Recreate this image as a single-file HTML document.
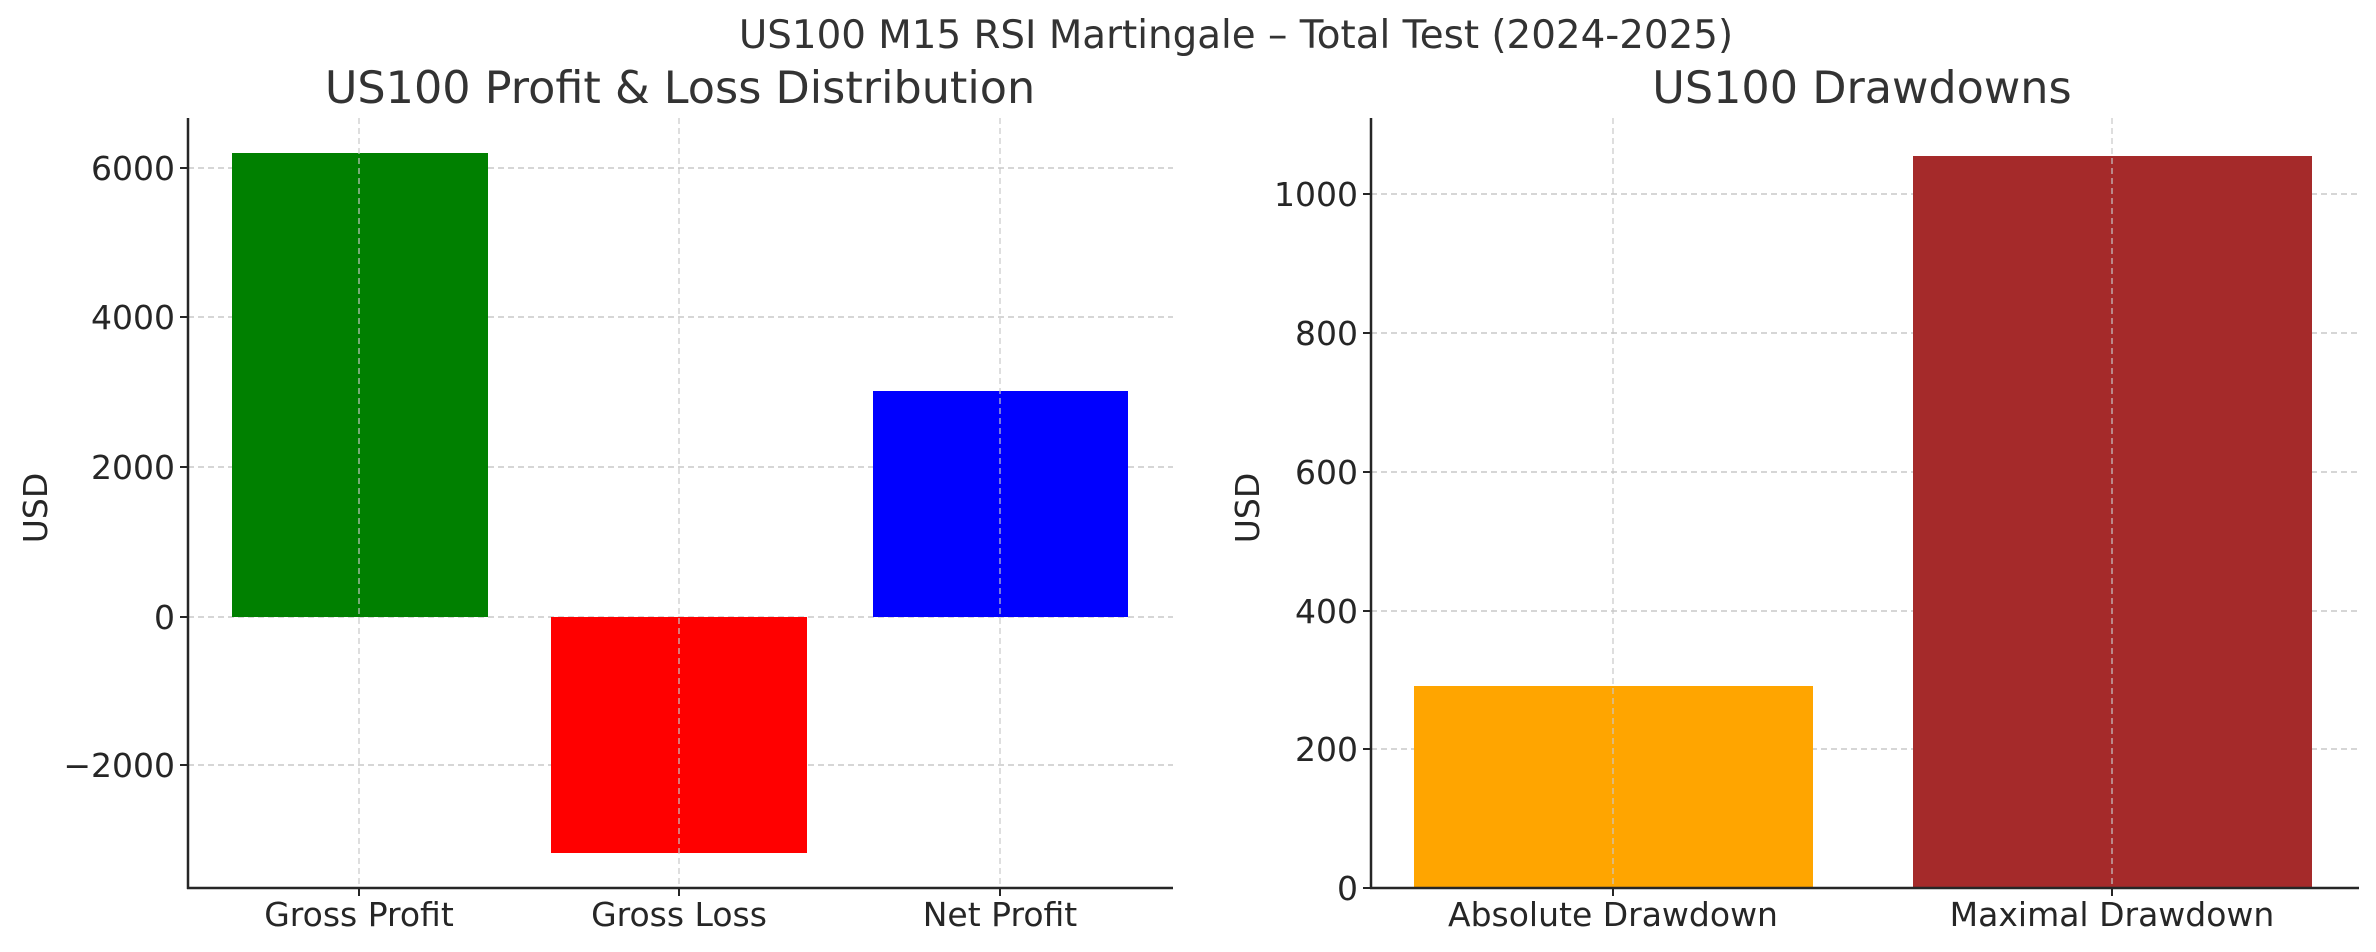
<!DOCTYPE html>
<html><head><meta charset="utf-8"><style>html,body{margin:0;padding:0;background:#fff}svg{display:block}</style></head>
<body>
<svg width="2376" height="952" xmlns="http://www.w3.org/2000/svg" font-family="DejaVu Sans, Liberation Sans, sans-serif" fill="#262626">
<rect width="2376" height="952" fill="#fff"/>
<text x="1236" y="48" font-size="38.8" text-anchor="middle" fill="#333">US100 M15 RSI Martingale – Total Test (2024-2025)</text>
<!-- Left chart -->
<text x="680" y="103" font-size="44.5" text-anchor="middle" fill="#333">US100 Profit &amp; Loss Distribution</text>
<g stroke="#c8c8c8" stroke-width="1.5" stroke-dasharray="6,4">
<line x1="188" y1="168" x2="1173" y2="168"/><line x1="188" y1="317" x2="1173" y2="317"/>
<line x1="188" y1="467" x2="1173" y2="467"/><line x1="188" y1="617" x2="1173" y2="617"/>
<line x1="188" y1="765" x2="1173" y2="765"/>
</g>
<rect x="232" y="153" width="256" height="464" fill="#008000"/>
<rect x="551" y="617" width="256" height="236" fill="#ff0000"/>
<rect x="873" y="391" width="255" height="226" fill="#0000ff"/>
<g stroke="#c8c8c8" stroke-width="1.5" stroke-dasharray="6,4" opacity="0.8">
<line x1="359" y1="118" x2="359" y2="888"/><line x1="679" y1="118" x2="679" y2="888"/><line x1="1000" y1="118" x2="1000" y2="888"/>
</g>
<g stroke="#262626" stroke-width="2.5"><line x1="188" y1="118" x2="188" y2="889"/><line x1="187" y1="888" x2="1173" y2="888"/></g>
<g stroke="#262626" stroke-width="2">
<line x1="180" y1="168" x2="188" y2="168"/><line x1="180" y1="317" x2="188" y2="317"/><line x1="180" y1="467" x2="188" y2="467"/><line x1="180" y1="617" x2="188" y2="617"/><line x1="180" y1="765" x2="188" y2="765"/>
<line x1="359" y1="888" x2="359" y2="896"/><line x1="679" y1="888" x2="679" y2="896"/><line x1="1000" y1="888" x2="1000" y2="896"/>
</g>
<g font-size="33" text-anchor="end">
<text x="175" y="180">6000</text><text x="175" y="329">4000</text><text x="175" y="479">2000</text><text x="175" y="629">0</text><text x="175" y="777">−2000</text>
</g>
<g font-size="33" text-anchor="middle">
<text x="359" y="926">Gross Profit</text><text x="679" y="926">Gross Loss</text><text x="1000" y="926">Net Profit</text>
</g>
<text transform="translate(47,508) rotate(-90)" font-size="33" text-anchor="middle">USD</text>
<!-- Right chart -->
<text x="1862" y="103" font-size="44.5" text-anchor="middle" fill="#333">US100 Drawdowns</text>
<g stroke="#c8c8c8" stroke-width="1.5" stroke-dasharray="6,4">
<line x1="1371" y1="194" x2="2359" y2="194"/><line x1="1371" y1="333" x2="2359" y2="333"/>
<line x1="1371" y1="472" x2="2359" y2="472"/><line x1="1371" y1="611" x2="2359" y2="611"/>
<line x1="1371" y1="749" x2="2359" y2="749"/>
</g>
<rect x="1414" y="686" width="399" height="202" fill="#ffa500"/>
<rect x="1913" y="156" width="399" height="732" fill="#a52a2a"/>
<g stroke="#c8c8c8" stroke-width="1.5" stroke-dasharray="6,4" opacity="0.8">
<line x1="1613" y1="118" x2="1613" y2="888"/><line x1="2112" y1="118" x2="2112" y2="888"/>
</g>
<g stroke="#262626" stroke-width="2.5"><line x1="1371" y1="118" x2="1371" y2="889"/><line x1="1370" y1="888" x2="2359" y2="888"/></g>
<g stroke="#262626" stroke-width="2">
<line x1="1363" y1="194" x2="1371" y2="194"/><line x1="1363" y1="333" x2="1371" y2="333"/><line x1="1363" y1="472" x2="1371" y2="472"/><line x1="1363" y1="611" x2="1371" y2="611"/><line x1="1363" y1="749" x2="1371" y2="749"/><line x1="1363" y1="888" x2="1371" y2="888"/>
<line x1="1613" y1="888" x2="1613" y2="896"/><line x1="2112" y1="888" x2="2112" y2="896"/>
</g>
<g font-size="33" text-anchor="end">
<text x="1358" y="206">1000</text><text x="1358" y="345">800</text><text x="1358" y="484">600</text><text x="1358" y="623">400</text><text x="1358" y="761">200</text><text x="1358" y="900">0</text>
</g>
<g font-size="33" text-anchor="middle">
<text x="1613" y="926">Absolute Drawdown</text><text x="2112" y="926">Maximal Drawdown</text>
</g>
<text transform="translate(1259,508) rotate(-90)" font-size="33" text-anchor="middle">USD</text>
</svg>
</body></html>
